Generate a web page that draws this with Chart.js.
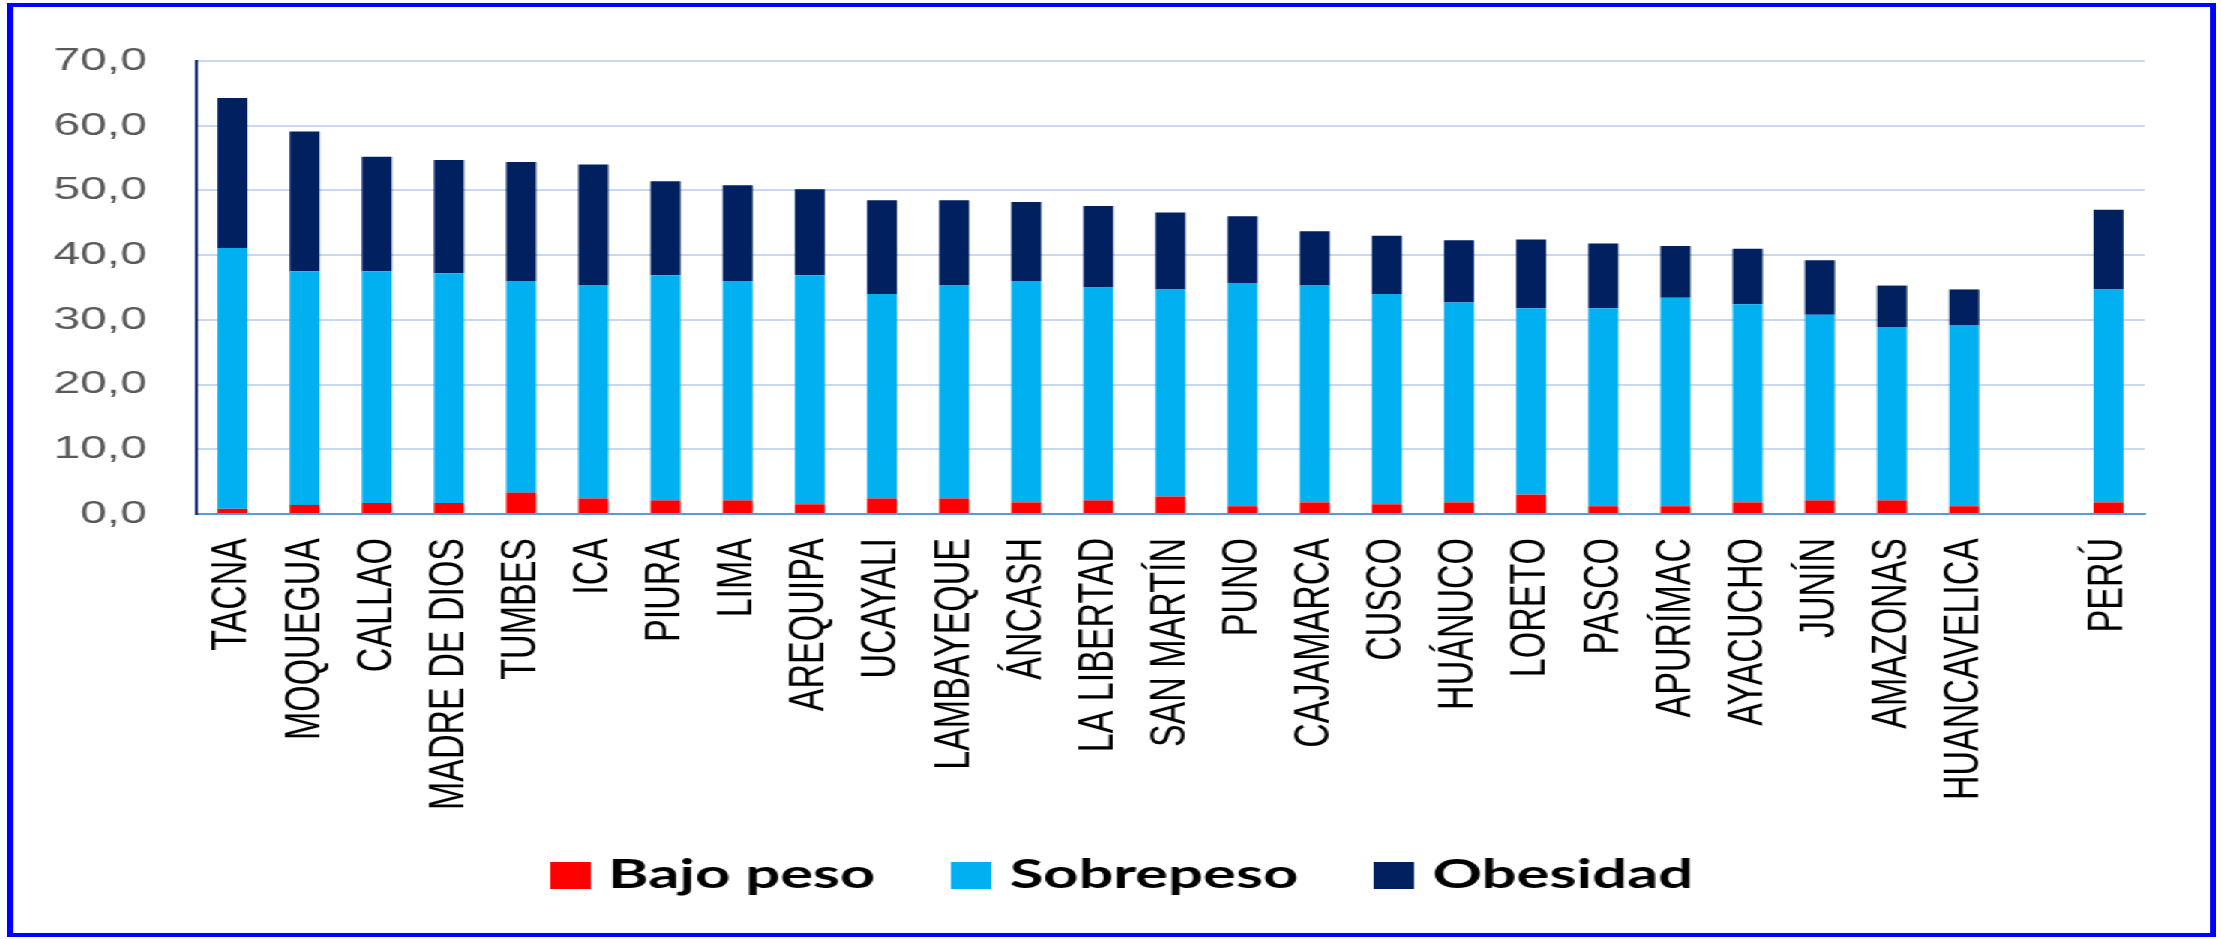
<!DOCTYPE html>
<html>
<head>
<meta charset="utf-8">
<script src="https://cdn.jsdelivr.net/npm/chart.js@4/dist/chart.umd.min.js"></script>
<style>
  html, body { margin: 0; padding: 0; background: #ffffff; overflow: hidden; }
  #stage { position: absolute; left: 0; top: 0; width: 1481px; height: 939px;
           transform: scaleX(1.49966); transform-origin: 0 0; }
  #frame { position: absolute; left: 5px; top: 3px; width: 1473px; height: 934px;
           box-sizing: border-box; border: 4px solid #0000ff; }
  #c { position: absolute; left: 0; top: 0; }
</style>
</head>
<body>
<div id="stage">
  <canvas id="c" width="1481" height="939"></canvas>
  <div id="frame"></div>
</div>
<script>
const regiones = ['TACNA','MOQUEGUA','CALLAO','MADRE DE DIOS','TUMBES','ICA','PIURA','LIMA',
  'AREQUIPA','UCAYALI','LAMBAYEQUE','ÁNCASH','LA LIBERTAD','SAN MARTÍN','PUNO','CAJAMARCA',
  'CUSCO','HUÁNUCO','LORETO','PASCO','APURÍMAC','AYACUCHO','JUNÍN','AMAZONAS','HUANCAVELICA','','PERÚ'];
const bajoPeso  = [0.8,1.4,1.7,1.7,3.3,2.4,2.1,2.1,1.5,2.4,2.4,1.8,2.1,2.7,1.2,1.8,1.5,1.8,3.0,1.2,1.2,1.8,2.1,2.1,1.2,null,1.8];
const sobrepeso = [40.3,36.1,35.8,35.5,32.7,32.9,34.8,33.9,35.4,31.6,32.9,34.2,32.9,32.0,34.5,33.5,32.5,30.9,28.8,30.6,32.2,30.6,28.7,26.8,28.0,null,32.9];
const obesidad  = [23.2,21.6,17.7,17.5,18.4,18.7,14.5,14.8,13.3,14.5,13.2,12.2,12.6,11.9,10.3,8.4,9.0,9.6,10.6,10.0,8.0,8.6,8.4,6.4,5.5,null,12.3];
const yTicks = [0,10,20,30,40,50,60,70];
const colores = ['#ff0000', '#00b0f0', '#002060'];

function swatch(color) {
  const cv = document.createElement('canvas');
  cv.width = 27; cv.height = 27;
  const g = cv.getContext('2d');
  g.fillStyle = color; g.fillRect(0, 0, 27, 27);
  return cv;
}
const swatches = colores.map(swatch);

const legendShift = {
  id: 'legendShift',
  beforeDraw(chart) {
    const lg = chart.legend;
    if (lg && !lg._shifted) {
      lg.left += 32; lg.right += 32;
      lg.top -= 28.5; lg.bottom -= 28.5;
      lg._shifted = true;
    }
  }
};

new Chart(document.getElementById('c'), {
  type: 'bar',
  data: {
    labels: regiones,
    datasets: [
      { label: 'Bajo peso', data: bajoPeso, backgroundColor: colores[0] },
      { label: 'Sobrepeso', data: sobrepeso, backgroundColor: colores[1] },
      { label: 'Obesidad', data: obesidad, backgroundColor: colores[2] }
    ]
  },
  plugins: [legendShift],
  options: {
    responsive: false,
    animation: false,
    events: [],
    layout: { padding: { left: 10, right: 51, top: 61, bottom: 5 } },
    datasets: { bar: { barPercentage: 0.415, categoryPercentage: 1.0 } },
    plugins: {
      tooltip: { enabled: false },
      legend: {
        position: 'bottom',
        labels: {
          usePointStyle: true, boxWidth: 10, padding: 59, color: '#000000',
          font: { family: 'Lato', weight: 'bold', size: 41 },
          generateLabels(chart) {
            const items = Chart.defaults.plugins.legend.labels.generateLabels(chart);
            items.forEach(it => { it.pointStyle = swatches[it.datasetIndex]; });
            return items;
          }
        }
      }
    },
    scales: {
      x: {
        stacked: true,
        grid: { display: false, drawTicks: false },
        border: { display: true, color: '#5b9bd5', width: 2 },
        ticks: {
          autoSkip: false, maxRotation: 90, minRotation: 90, padding: 24,
          color: '#000000', font: { family: 'Liberation Sans', size: 34 }
        },
        afterFit(scale) { scale.height = 310; }
      },
      y: {
        stacked: true,
        min: 0, max: 70,
        afterBuildTicks(scale) { scale.ticks = yTicks.map(v => ({ value: v })); },
        grid: { color: '#c6d9f0', lineWidth: 2, drawTicks: false },
        border: { display: true, color: '#0f2a66', width: 2 },
        ticks: {
          padding: 33, color: '#595959',
          font: { family: 'Liberation Sans', size: 32 },
          callback: v => v.toFixed(1).replace('.', ',')
        },
        afterFit(scale) { scale.width = 121; }
      }
    }
  }
});
</script>
</body>
</html>
